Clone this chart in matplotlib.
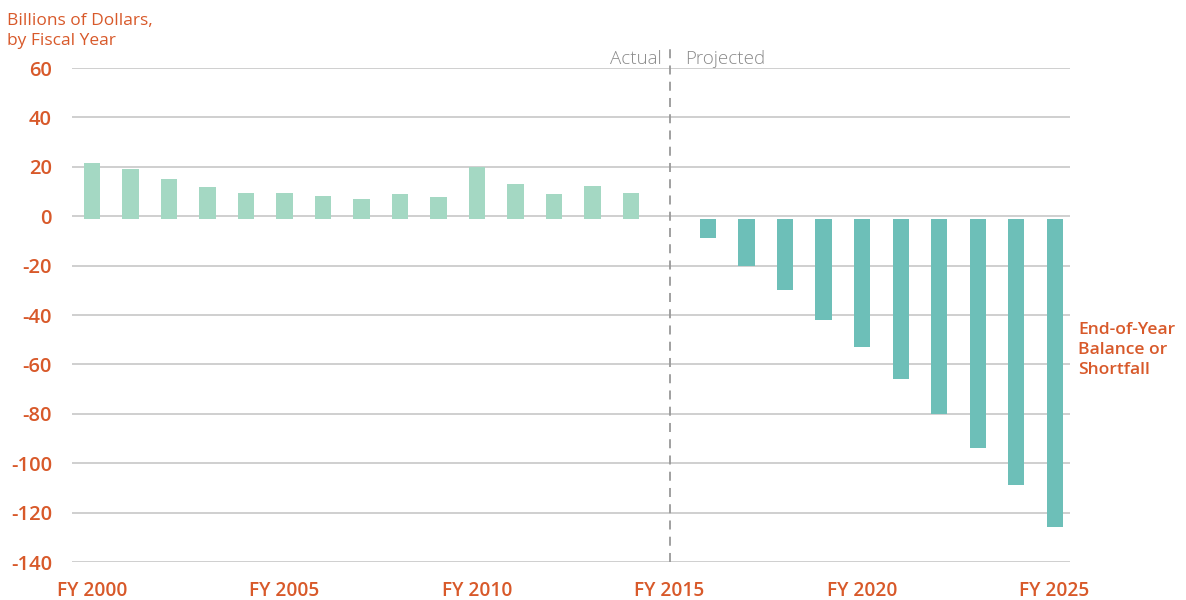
import matplotlib
matplotlib.use("Agg")
import matplotlib.pyplot as plt

# Data (billions of dollars, by fiscal year)
actual_years = list(range(2000, 2015))
actual_values = [21.4, 19.3, 14.9, 12.0, 9.6, 9.6, 8.0, 6.8, 8.8, 7.6,
                 20.0, 13.2, 8.8, 12.4, 9.6]

projected_years = list(range(2016, 2026))
projected_values = [-9, -20, -30, -42, -53, -66, -80, -94, -109, -126]

tick_years = [2000, 2005, 2010, 2015, 2020, 2025]
tick_labels = ["FY %d" % y for y in tick_years]
y_ticks = [60, 40, 20, 0, -20, -40, -60, -80, -100, -120, -140]

orange = "#d8592a"
actual_color = "#a4d8c3"
projected_color = "#6dbfb8"
grid_color = "#cccccc"

plt.rcParams["font.family"] = ["Open Sans", "DejaVu Sans"]

fig = plt.figure(figsize=(11.86, 6), dpi=100)
ax = fig.add_axes([0.0607, 0.0633, 0.8415, 0.8233])

# bars in the original sit on a baseline a touch below zero
base = -1.2
ax.bar(actual_years, [v - base for v in actual_values], bottom=base,
       width=0.42, color=actual_color, zorder=3)
ax.bar(projected_years, [v - base for v in projected_values], bottom=base,
       width=0.42, color=projected_color, zorder=3)

ax.set_xlim(1999.48, 2025.4)
ax.set_ylim(-140, 60)

for y in y_ticks:
    ax.axhline(y, color=grid_color, linewidth=1.3, zorder=1)

# actual / projected divider
ax.plot([2015, 2015], [-140, 69], color="#999999", linewidth=1.3,
        linestyle=(0, (5, 4)), clip_on=False, zorder=2)
ax.text(2014.8, 61.6, "Actual", ha="right", va="baseline", fontsize=13.5,
        color="#8a8a8a", fontweight="light")
ax.text(2015.4, 61.6, "Projected", ha="left", va="baseline", fontsize=13.5,
        color="#8a8a8a", fontweight="light")

ax.set_yticks(y_ticks)
ax.set_yticklabels([str(v) for v in y_ticks])
ax.set_xticks(tick_years)
ax.set_xticklabels(tick_labels)
ax.tick_params(axis="y", length=0, pad=14.4, labelsize=14.5, labelcolor=orange)
ax.tick_params(axis="x", length=0, pad=14, labelsize=13.8, labelcolor=orange)
for lab in ax.get_xticklabels() + ax.get_yticklabels():
    lab.set_fontweight("semibold")

for s in ax.spines.values():
    s.set_visible(False)

fig.text(7 / 1186, 1 - 31 / 600, "Billions of Dollars,\nby Fiscal Year",
         ha="left", va="center", fontsize=12.5, color=orange,
         linespacing=1.32)
fig.text(1078 / 1186, 1 - 350 / 600, "End-of-Year\nBalance or\nShortfall",
         ha="left", va="center", fontsize=12.6, color=orange,
         fontweight="semibold", linespacing=1.35)

fig.savefig("out.png", dpi=100)
